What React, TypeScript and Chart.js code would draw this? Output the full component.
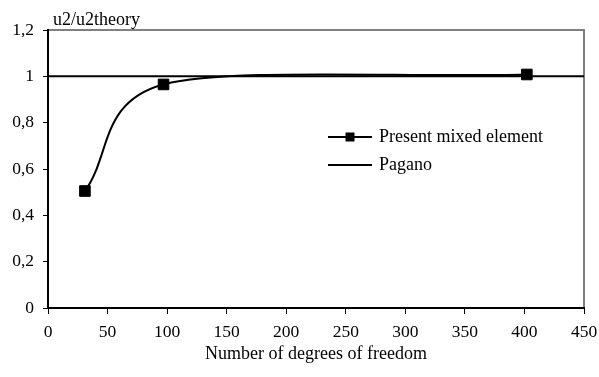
import React, { useEffect, useRef } from "react";
import { Chart, registerables } from "chart.js";

Chart.register(...registerables);

// ---- data ----
const mixedDof = [31, 97, 402];
const mixedRatio = [0.505, 0.965, 1.008];
const paganoDof = [0, 450];
const paganoRatio = [1, 1];
const xTicks = [0, 50, 100, 150, 200, 250, 300, 350, 400, 450];
const yTickLabels = ["0", "0,2", "0,4", "0,6", "0,8", "1", "1,2"];
const seriesNames = ["Present mixed element", "Pagano"];
const yTitle = "u2/u2theory";
const xTitle = "Number of degrees of freedom";

const FONT = "'Liberation Serif', 'Times New Roman', serif";

// Excel-like smoothing of line: control points from neighbour points
const excelSmooth = {
  id: "excelSmooth",
  beforeDatasetDraw(chart: any, args: any) {
    const ds = chart.data.datasets[args.index];
    if (!ds.excelSmooth) return;
    const meta = args.meta;
    const pts = meta.data;
    const n = pts.length;
    if (n < 2) return;
    for (let i = 0; i < n; i++) {
      const p = pts[i];
      const prev = i > 0 ? pts[i - 1] : { x: 2 * p.x - pts[i + 1].x, y: 2 * p.y - pts[i + 1].y };
      const next = i < n - 1 ? pts[i + 1] : { x: 2 * p.x - pts[i - 1].x, y: 2 * p.y - pts[i - 1].y };
      const d01 = Math.hypot(p.x - prev.x, p.y - prev.y);
      const d12 = Math.hypot(next.x - p.x, next.y - p.y);
      const d02 = Math.hypot(next.x - prev.x, next.y - prev.y) || 1;
      const len = Math.min(d02 / 6, d01 / 2, d12 / 2);
      const ux = (next.x - prev.x) / d02;
      const uy = (next.y - prev.y) / d02;
      p.cp1x = p.x - ux * len;
      p.cp1y = p.y - uy * len;
      p.cp2x = p.x + ux * len;
      p.cp2y = p.y + uy * len;
    }
    meta.dataset._pointsUpdated = true;
    meta.dataset._path = undefined;
  },
};

const frameAndLabels = {
  id: "frameAndLabels",
  beforeDraw(chart: any) {
    const { ctx, chartArea: a } = chart;
    ctx.save();
    ctx.strokeStyle = "#808080";
    ctx.lineWidth = 2;
    ctx.strokeRect(a.left, a.top, a.right - a.left, a.bottom - a.top);
    ctx.restore();
  },
  afterDraw(chart: any) {
    const { ctx, chartArea: a } = chart;
    ctx.save();
    ctx.fillStyle = "#000";
    ctx.font = `18px ${FONT}`;
    ctx.textBaseline = "alphabetic";
    ctx.textAlign = "left";
    ctx.fillText(yTitle, a.left + 5, a.top - 5);

    // legend
    const lx = a.left + 280;
    const rows = [a.top + 107, a.top + 135];
    chart.data.datasets.forEach((ds: any, i: number) => {
      const y = rows[i];
      ctx.strokeStyle = ds.borderColor;
      ctx.lineWidth = 2;
      ctx.beginPath();
      ctx.moveTo(lx, y);
      ctx.lineTo(lx + 44, y);
      ctx.stroke();
      if (ds.pointRadius > 0) {
        ctx.fillStyle = ds.pointBackgroundColor;
        ctx.fillRect(lx + 22 - 4.5, y - 4.5, 9, 9);
      }
      ctx.fillStyle = "#000";
      ctx.textBaseline = "middle";
      ctx.fillText(ds.label, lx + 51, y);
    });
    ctx.restore();
  },
};

export default function App() {
  const ref = useRef<HTMLCanvasElement>(null);
  useEffect(() => {
    if (!ref.current) return;
    const chart = new Chart(ref.current, {
      type: "line",
      data: {
        datasets: [
          {
            label: seriesNames[0],
            data: mixedDof.map((x, i) => ({ x, y: mixedRatio[i] })),
            borderColor: "#000",
            borderWidth: 2,
            pointStyle: "rect",
            pointRadius: 7.5,
            pointBackgroundColor: "#000",
            pointBorderColor: "#000",
            pointBorderWidth: 1,
            tension: 0.4,
            fill: false,
            excelSmooth: true,
          } as any,
          {
            label: seriesNames[1],
            data: paganoDof.map((x, i) => ({ x, y: paganoRatio[i] })),
            borderColor: "#000",
            borderWidth: 2,
            pointRadius: 0,
            pointBackgroundColor: "#000",
            tension: 0,
            fill: false,
          },
        ],
      },
      options: {
        animation: false,
        responsive: false,
        maintainAspectRatio: false,
        layout: { padding: { left: 0, right: 15, top: 30, bottom: 0 } },
        plugins: {
          legend: { display: false },
          tooltip: { enabled: false },
          title: { display: false },
        },
        scales: {
          x: {
            type: "linear",
            min: 0,
            max: 450,
            afterFit: (s: any) => {
              s.height = 69;
              s.paddingLeft = 0;
              s.paddingRight = 0;
            },
            afterBuildTicks: (s: any) => {
              s.ticks = xTicks.map((v) => ({ value: v }));
            },
            ticks: {
              color: "#000",
              font: { family: FONT, size: 17.5 },
              padding: 8,
              maxRotation: 0,
              autoSkip: false,
            },
            grid: {
              display: true,
              drawOnChartArea: false,
              drawTicks: true,
              tickLength: 6,
              color: "#000",
              lineWidth: 1,
            },
            border: { display: true, color: "#000", width: 2 },
            title: {
              display: true,
              text: xTitle,
              color: "#000",
              font: { family: FONT, size: 18 },
              padding: { top: 0, bottom: 12 },
            },
          },
          y: {
            type: "linear",
            min: 0,
            max: 1.2,
            afterFit: (s: any) => {
              s.width = 48;
              s.paddingTop = 0;
              s.paddingBottom = 0;
            },
            ticks: {
              stepSize: 0.2,
              color: "#000",
              font: { family: FONT, size: 17.5 },
              padding: 9,
              callback: (_v: any, i: number) => yTickLabels[i],
            },
            grid: {
              display: true,
              drawOnChartArea: false,
              drawTicks: true,
              tickLength: 5,
              color: "#000",
              lineWidth: 1,
            },
            border: { display: true, color: "#000", width: 2 },
          },
        },
      },
      plugins: [excelSmooth, frameAndLabels],
    });
    return () => chart.destroy();
  }, []);
  return (
    <div style={{ position: "fixed", left: 0, top: 0, width: 599, height: 377, background: "#fff" }}>
      <canvas ref={ref} width={599} height={377} style={{ width: 599, height: 377, display: "block" }} />
    </div>
  );
}
